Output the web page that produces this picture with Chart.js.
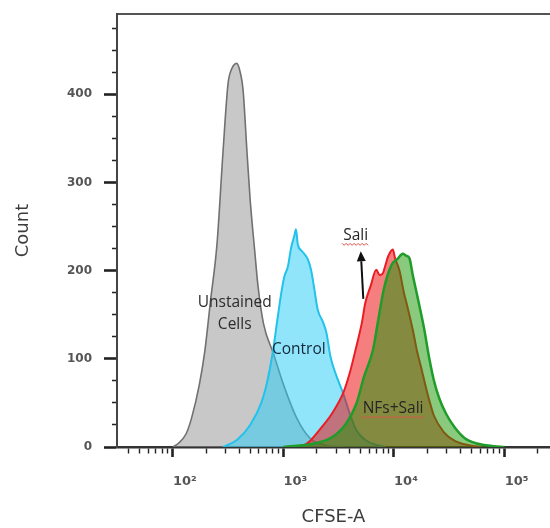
<!DOCTYPE html>
<html>
<head>
<meta charset="utf-8">
<script src="https://cdn.jsdelivr.net/npm/chart.js@4.4.1/dist/chart.umd.min.js"></script>
<style>
  html, body { margin: 0; padding: 0; background: #fff; overflow: hidden; }
</style>
</head>
<body>
<canvas id="c" width="550" height="528"></canvas>
<script>
// CFSE-A fluorescence (linear units) and event counts per histogram
const unstainedCFSE  = [100, 112, 132, 148, 174, 195, 219, 251, 285, 316, 339, 378, 407, 432, 468, 501, 550, 589, 661, 813, 1000, 1318, 1738, 2399, 3548];
const unstainedCount = [0, 4, 15, 33, 71, 109, 165, 230, 336, 412, 428, 435, 425, 405, 336, 280, 223, 183, 140, 106, 71, 33, 10, 2, 0];

const controlCFSE  = [285, 380, 501, 631, 708, 794, 891, 955, 1023, 1096, 1175, 1259, 1300, 1349, 1479, 1660, 1778, 1905, 2042, 2291, 2455, 2661, 2951, 3467, 3981, 4571, 5495, 7079, 8318];
const controlCount = [0, 8, 25, 50, 72, 104, 148, 174, 194, 204, 226, 240, 247, 230, 222, 213, 201, 179, 156, 141, 129, 103, 84, 61, 38, 19, 8, 2, 0];

const saliCFSE  = [1122, 1585, 1778, 2239, 2754, 3467, 3981, 4571, 5129, 5495, 6166, 6918, 7413, 7943, 8318, 8913, 9772, 10233, 11220, 12303, 13183, 14791, 16218, 17783, 19953, 22909, 28184, 35481, 47863, 63096];
const saliCount = [0, 3, 8, 23, 38, 61, 84, 114, 141, 163, 183, 201, 195, 197, 205, 217, 224, 214, 200, 175, 160, 133, 108, 88, 62, 36, 17, 7, 2, 0];

const nfsSaliCFSE  = [1000, 1905, 2754, 3715, 4571, 5370, 6457, 7161, 8128, 9550, 10715, 12023, 12882, 13804, 14791, 16596, 18621, 20893, 22909, 25704, 29512, 35481, 43652, 56234, 79433, 100000];
const nfsSaliCount = [0, 4, 11, 27, 49, 80, 110, 142, 180, 207, 213, 219, 217, 214, 195, 166, 136, 100, 76, 55, 38, 22, 10, 4, 1, 0];

// axis ticks
const countTicks = [0, 25, 50, 75, 100, 125, 150, 175, 200, 225, 250, 275, 300, 325, 350, 375, 400, 425, 450, 475];
const decades = [10, 100, 1000, 10000, 100000];
const decadeLabels = ['10¹', '10²', '10³', '10⁴', '10⁵'];

const pts = (xs, ys) => xs.map((v, i) => ({ x: v, y: ys[i] }));
const isDecade = v => Math.abs(Math.log10(v) - Math.round(Math.log10(v))) < 1e-9;

const X_MIN = 31.3, X_MAX = 257600;
const logTicks = [];
decades.forEach(d => { for (let m = 1; m <= 9; m++) { const v = d * m; if (v >= X_MIN && v <= X_MAX) logTicks.push(v); } });

// text notes placed in data space
const notes = [
  { text: 'Unstained', at: [363, 164], color: '#2c2c2c' },
  { text: 'Cells',     at: [363, 139], color: '#2c2c2c' },
  { text: 'Control',   at: [1380, 111], color: '#14283c' },
  { text: 'Sali',      at: [4500, 240], color: '#262626', squiggle: true },
  { text: 'NFs+Sali',  at: [9820, 44], color: '#262626', squiggle: true }
];
const arrowFrom = [5280, 168], arrowTo = [5010, 222];

const notePlugin = {
  id: 'notes',
  afterDatasetsDraw(chart) {
    const { ctx, scales: { x, y } } = chart;
    ctx.save();
    ctx.font = '15.5px "Open Sans"';
    ctx.textAlign = 'center';
    ctx.textBaseline = 'middle';
    notes.forEach(n => {
      const px = x.getPixelForValue(n.at[0]);
      const py = y.getPixelForValue(n.at[1]);
      ctx.fillStyle = n.color;
      ctx.fillText(n.text, px, py);
      if (n.squiggle) {
        const w = ctx.measureText(n.text).width + 2;
        const yy = py + 9;
        ctx.beginPath();
        ctx.strokeStyle = '#e0524a';
        ctx.lineWidth = 1;
        let up = true;
        for (let sx = px - w / 2; sx <= px + w / 2; sx += 2) {
          const sy = yy + (up ? -1 : 1);
          if (sx === px - w / 2) ctx.moveTo(sx, sy); else ctx.lineTo(sx, sy);
          up = !up;
        }
        ctx.stroke();
      }
    });
    // arrow
    const x1 = x.getPixelForValue(arrowFrom[0]), y1 = y.getPixelForValue(arrowFrom[1]);
    const x2 = x.getPixelForValue(arrowTo[0]),   y2 = y.getPixelForValue(arrowTo[1]);
    const ang = Math.atan2(y2 - y1, x2 - x1);
    const head = 10, half = 4.5;
    const bx = x2 - head * Math.cos(ang), by = y2 - head * Math.sin(ang);
    ctx.strokeStyle = '#111';
    ctx.fillStyle = '#111';
    ctx.lineWidth = 2;
    ctx.beginPath();
    ctx.moveTo(x1, y1);
    ctx.lineTo(bx, by);
    ctx.stroke();
    ctx.beginPath();
    ctx.moveTo(x2, y2);
    ctx.lineTo(bx + half * Math.sin(ang), by - half * Math.cos(ang));
    ctx.lineTo(bx - half * Math.sin(ang), by + half * Math.cos(ang));
    ctx.closePath();
    ctx.fill();
    ctx.restore();
  }
};

const common = { fill: 'origin', pointRadius: 0, cubicInterpolationMode: 'monotone' };
const noPad = s => { s.paddingLeft = 0; s.paddingRight = 0; s.paddingTop = 0; s.paddingBottom = 0; };

new Chart(document.getElementById('c'), {
  type: 'line',
  data: {
    datasets: [
      { ...common, label: 'NFs+Sali', data: pts(nfsSaliCFSE, nfsSaliCount), borderColor: '#1f9c29', backgroundColor: 'rgba(20,150,0,0.5)', borderWidth: 2.5, order: 1 },
      { ...common, label: 'Sali', data: pts(saliCFSE, saliCount), borderColor: '#ec1c24', backgroundColor: 'rgba(235,10,10,0.52)', borderWidth: 2, order: 2 },
      { ...common, label: 'Control', data: pts(controlCFSE, controlCount), borderColor: '#23c2ea', backgroundColor: 'rgba(45,205,245,0.52)', borderWidth: 2, order: 3 },
      { ...common, label: 'Unstained Cells', data: pts(unstainedCFSE, unstainedCount), borderColor: '#717171', backgroundColor: 'rgba(150,150,150,0.52)', borderWidth: 1.6, order: 4 }
    ]
  },
  options: {
    responsive: false,
    animation: false,
    layout: { padding: 0 },
    plugins: { legend: { display: false }, tooltip: { enabled: false } },
    scales: {
      x: {
        type: 'logarithmic',
        min: X_MIN,
        max: X_MAX,
        afterBuildTicks: s => { s.ticks = logTicks.map(v => ({ value: v, major: isDecade(v) })); },
        afterFit: s => { s.height = 81; noPad(s); },
        ticks: {
          autoSkip: false,
          maxRotation: 0,
          labelOffset: 12,
          padding: 17,
          color: '#555',
          font: { family: 'DejaVu Sans', size: 13, weight: 'bold' },
          callback: v => { const i = decades.indexOf(v); return i >= 0 ? decadeLabels[i] : ''; }
        },
        grid: {
          drawOnChartArea: false,
          tickLength: 10,
          tickColor: '#222',
          tickWidth: c => (c.tick && isDecade(c.tick.value)) ? 2.6 : 1.4,
          tickBorderDash: c => (c.tick && isDecade(c.tick.value)) ? [] : [5, 100]
        },
        border: { display: true, color: '#333', width: 2.5 },
        title: { display: true, text: 'CFSE-A', color: '#3c3c3c', font: { family: 'DejaVu Sans', size: 18 }, padding: { top: 0, bottom: 0 } }
      },
      xTop: {
        type: 'linear',
        position: 'top',
        min: 0, max: 1,
        afterFit: s => { s.height = 14; noPad(s); },
        ticks: { display: false },
        grid: { display: false, drawTicks: false },
        border: { display: true, color: '#555', width: 2 }
      },
      y: {
        type: 'linear',
        min: 0,
        max: 491,
        afterBuildTicks: s => { s.ticks = countTicks.map(v => ({ value: v })); },
        afterFit: s => { s.width = 117; noPad(s); },
        ticks: {
          autoSkip: false,
          padding: 12,
          color: '#555',
          font: { family: 'DejaVu Sans', size: 12, weight: 'bold' },
          callback: v => (v % 100 === 0 ? String(v) : '')
        },
        grid: {
          drawOnChartArea: false,
          tickLength: 13,
          tickColor: '#222',
          tickWidth: c => (c.tick && c.tick.value % 100 === 0) ? 2.6 : 1.4,
          tickBorderDash: c => (c.tick && c.tick.value % 100 === 0) ? [] : [0, 8, 5, 100]
        },
        border: { display: true, color: '#444', width: 2 },
        title: { display: true, text: 'Count', color: '#3c3c3c', font: { family: 'DejaVu Sans', size: 18 }, padding: { top: 13, bottom: 0 } }
      }
    }
  },
  plugins: [notePlugin]
});
</script>
</body>
</html>
